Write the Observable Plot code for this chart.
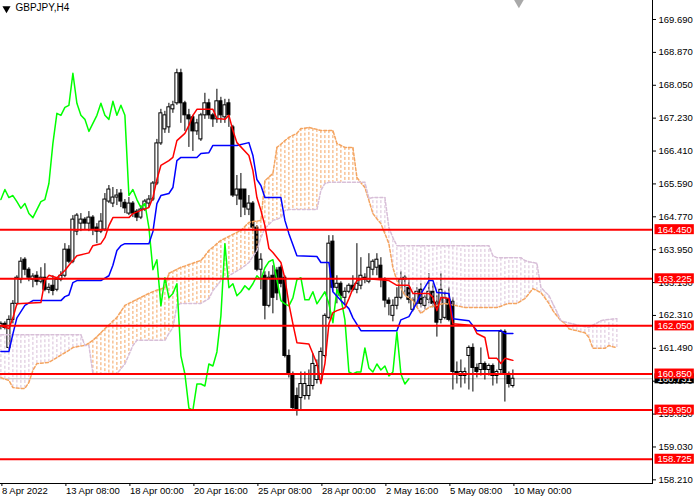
<!DOCTYPE html>
<html>
<head>
<meta charset="utf-8">
<script src="https://cdn.jsdelivr.net/npm/d3@7"></script>
<script src="https://cdn.jsdelivr.net/npm/@observablehq/plot@0.6"></script>
<style>
  body { margin: 0; background: #fff; }
  #chart svg { display: block; }
</style>
</head>
<body>
<div id="chart"></div>
<script>
// GBPJPY H4 con Ichimoku
const symbolName = "GBPJPY,H4"

const opens = [162.05,162.1,161.5,162.2,162.6,163.2,163.7,163.45,163.2,163.3,
  163.15,163.25,162.95,163.05,162.95,163.2,163.3,163.95,163.65,164.4,
  164.6,164.7,164.6,164.75,164.5,164.4,164.45,165.15,165.1,165.25,
  165.35,165.12,164.85,165.1,164.9,164.75,164.95,165.1,165.2,165.6,
  166.6,166.95,167.0,167.45,167.6,168.35,167.6,167.3,167.25,166.9,
  166.7,167.3,167.6,167.3,167.2,167.65,167.25,167.6,167.0,165.3,
  165.45,165.45,164.95,165.1,164.5,163.45,163.3,162.55,163.3,163.43,
  163.5,163.25,161.3,160.85,160.3,160.25,160.3,160.3,160.55,160.7,
  160.7,161.3,162.25,164.15,163.0,163.1,162.75,162.9,163.05,162.95,
  163.05,163.25,163.15,163.45,163.5,163.55,163.2,162.68,162.3,162.55,
  162.75,163.2,163.0,162.45,162.6,162.95,162.55,162.7,162.9,162.63,
  162.2,162.25,162.7,162.65,160.9,160.8,160.8,161.3,161.5,161.0,
  160.95,161.1,160.95,161.05,160.8,160.95,161.9,160.85,160.55]
const highs = [162.15,162.15,162.3,162.68,163.3,163.75,163.75,163.5,163.35,163.4,
  163.5,163.6,163.1,163.3,163.25,163.4,164.1,164.05,164.8,164.85,
  164.85,164.75,164.9,164.8,164.6,164.85,165.35,165.55,165.5,165.45,
  165.45,165.2,165.25,165.15,164.95,165.05,165.2,165.3,165.65,166.7,
  167.45,167.4,167.6,167.65,168.45,168.45,167.65,167.45,167.3,167.2,
  167.35,167.85,167.7,167.35,167.95,167.75,167.7,167.7,167.05,165.8,
  165.85,165.45,165.3,165.15,164.55,163.85,163.4,163.4,163.55,163.5,
  163.55,163.3,161.45,160.9,160.5,160.9,160.9,160.95,161.35,161.2,
  161.5,162.35,164.3,164.3,163.3,163.15,163.0,163.1,163.3,164.1,
  163.75,163.35,163.85,163.7,163.85,163.75,163.25,162.75,162.7,163.0,
  163.4,163.3,163.2,162.75,163.0,163.1,162.8,163.35,163.1,162.8,
  163.35,162.9,163.0,162.75,161.15,161.2,161.0,161.55,161.6,161.1,
  161.5,161.15,161.1,161.1,160.95,161.95,161.95,160.9,160.95]
const lows = [161.95,161.95,161.45,162.1,162.55,163.1,163.3,163.15,163.0,163.05,
  163.1,162.9,162.85,162.8,162.9,163.15,163.25,163.6,163.6,164.3,
  164.4,164.45,164.4,164.3,164.1,164.35,164.4,165.1,165.0,165.05,
  165.0,164.85,164.8,164.75,164.65,164.7,164.9,165.0,165.15,165.55,
  166.55,166.85,166.85,167.35,167.55,167.1,166.9,166.5,166.4,166.8,
  166.65,167.2,167.2,167.0,167.1,167.1,167.1,167.0,165.25,165.05,
  164.75,164.8,164.8,164.4,163.4,162.95,162.2,162.5,162.35,162.68,
  163.0,161.25,160.75,159.95,159.8,159.95,160.2,160.2,160.45,160.6,
  160.65,161.25,162.2,162.9,162.6,162.7,162.55,162.85,162.9,162.85,
  162.95,163.1,163.1,163.3,163.3,163.0,162.5,162.3,162.15,162.45,
  162.7,162.8,162.6,162.4,162.5,162.5,162.45,162.6,162.5,161.77,
  162.1,162.2,162.15,160.45,160.6,160.5,160.6,160.45,160.4,160.75,
  160.8,160.7,160.8,160.55,160.6,160.85,160.15,160.5,160.5]
const closes = [162.1,162.0,162.2,162.6,163.25,163.65,163.45,163.25,163.28,163.15,
  163.25,162.95,163.0,162.92,163.2,163.3,163.95,163.65,164.7,164.8,
  164.7,164.6,164.75,164.45,164.4,164.65,165.2,165.45,165.25,165.3,
  165.15,164.98,165.1,164.85,164.75,164.95,165.15,165.2,165.6,166.6,
  167.35,167.3,167.5,167.55,168.35,167.6,167.3,167.2,166.9,167.1,
  167.3,167.6,167.3,167.2,167.65,167.3,167.55,167.3,165.3,165.45,
  165.2,165.0,165.1,164.5,163.45,163.7,162.55,163.25,162.75,162.86,
  163.1,161.3,160.85,160.0,159.95,160.6,160.6,160.55,161.1,161.05,
  161.4,162.3,164.1,163.0,163.1,162.8,162.9,163.05,162.95,163.1,
  163.3,163.2,163.5,163.65,163.7,163.2,162.68,162.6,162.55,162.75,
  163.2,163.25,162.7,162.7,162.9,162.6,162.75,162.9,162.6,162.13,
  162.95,162.75,162.2,160.9,160.85,160.9,160.9,161.5,161.0,160.9,
  161.1,160.95,161.05,160.8,160.9,161.9,160.85,160.6,160.731]

// ejes
const timeTicks = [0,16,32,48,64,80,96,112,128]
const timeLabels = ["8 Apr 2022","13 Apr 08:00","18 Apr 00:00","20 Apr 16:00","25 Apr 08:00",
  "28 Apr 00:00","2 May 16:00","5 May 08:00","10 May 00:00"]
const priceTicks = [169.69,168.87,168.05,167.23,166.41,165.59,164.77,163.95,163.13,
  162.31,161.49,160.67,159.85,159.03,158.21]
const levels = [164.45,163.225,162.05,160.85,159.95,158.725]

// Tenkan-sen (rojo)
const tenkanBar = [0,2,3,4,10,11,12,14,16,17,19,22,23,25,26,27,28,32,33,35,37,38,39,40,42,43,44,46,47,48,
  49,53,54,56,57,58,59,62,63,64,65,66,67,68,70,71,72,73,74,77,79,80,81,82,83,84,86,87,88,89,
  91,97,99,102,103,107,108,109,110,112,113,118,119,121,122,124,125,126,128]
const tenkanVal = [162.06,161.98,162.25,162.6,162.63,163.18,163.31,163.25,163.43,163.56,
  163.8,163.87,164.05,164.1,164.25,164.55,164.75,164.75,164.85,164.93,
  165.0,165.25,165.7,166.05,166.17,166.25,166.67,166.85,167.05,167.3,
  167.45,167.45,167.22,167.2,167.3,166.92,166.62,166.3,165.92,165.25,
  164.93,164.55,163.98,163.88,163.63,163.23,162.6,162.1,161.63,161.6,
  161.11,160.61,161.11,162.1,162.38,162.43,162.5,162.73,162.98,163.18,
  163.23,163.18,163.06,163.06,162.86,162.86,162.76,162.43,162.76,162.73,
  162.1,162.06,161.86,161.76,161.24,161.24,161.11,161.24,161.19]

// Kijun-sen (azul)
const kijunBar = [0,2,3,4,6,8,15,16,17,18,19,25,27,28,29,30,31,37,38,39,40,42,43,44,45,49,50,52,53,59,
  62,63,64,65,66,70,71,72,74,79,80,82,83,85,87,88,90,99,100,102,104,105,107,108,109,112,113,117,119,125,126,128]
const kijunVal = [161.41,161.41,161.85,162.25,162.56,162.68,162.68,162.78,162.82,163.13,
  163.18,163.18,163.3,163.56,163.93,164.05,164.1,164.1,164.4,165.1,
  165.3,165.35,165.5,166.17,166.25,166.25,166.35,166.37,166.55,166.55,
  166.62,166.3,165.7,165.55,165.25,165.25,164.68,164.35,163.8,163.78,
  163.63,163.63,162.9,162.68,162.48,162.25,161.93,161.93,162.2,162.28,
  162.63,162.85,163.18,163.18,162.88,162.86,162.23,162.18,161.93,161.93,
  161.86,161.86]

// Senkou Span A y B (nube), una por vela, incluye las 26 desplazadas
const spanA = [160.76,160.72,160.69,160.51,160.5,160.49,160.49,160.64,160.94,161.11,
  161.12,161.13,161.14,161.2,161.26,161.32,161.38,161.44,161.51,161.53,
  161.55,161.56,161.62,161.69,161.78,161.88,161.98,162.07,162.17,162.26,
  162.41,162.56,162.61,162.66,162.71,162.76,162.81,162.86,162.9,162.94,
  162.97,163.01,163.36,163.41,163.46,163.51,163.54,163.58,163.61,163.65,
  163.68,163.8,163.93,164.01,164.1,164.18,164.23,164.28,164.33,164.38,
  164.43,164.53,164.63,164.65,164.66,164.68,165.67,165.76,165.85,166.5,
  166.58,166.67,166.75,166.8,166.85,166.97,166.98,167.0,166.97,166.95,
  166.92,166.92,166.92,166.92,166.6,166.55,166.5,166.5,166.5,165.75,
  165.62,165.5,165.18,164.85,164.72,164.6,164.35,164.1,163.5,163.18,
  163.0,162.81,162.75,162.68,162.52,162.36,162.44,162.51,162.54,162.56,
  162.59,162.61,162.59,162.57,162.55,162.53,162.51,162.51,162.51,162.51,
  162.51,162.51,162.51,162.51,162.51,162.54,162.58,162.61,162.61,162.61,
  162.67,162.73,162.85,162.98,162.93,162.88,162.75,162.61,162.43,162.3,
  162.18,162.11,161.98,161.95,161.93,161.9,161.88,161.76,161.49,161.49,
  161.49,161.49,161.56,161.53,161.51]
const spanB = [161.83,161.83,161.83,161.83,161.83,161.83,161.83,161.83,161.83,161.83,
  161.83,161.83,161.83,161.83,161.83,161.83,161.83,161.83,161.83,161.83,
  161.83,161.56,161.56,160.86,160.86,160.86,160.86,160.86,160.86,160.86,
  160.98,161.1,161.33,161.56,161.69,161.69,161.69,161.69,161.69,161.69,
  161.69,161.69,161.86,162.01,162.56,162.61,162.61,162.61,162.61,162.61,
  162.61,162.67,162.73,162.93,163.05,163.18,163.24,163.3,163.36,163.42,
  163.48,163.55,163.63,163.78,163.93,164.25,164.48,164.58,164.68,164.71,
  164.75,164.93,164.95,164.95,164.95,164.95,164.95,164.95,164.95,164.95,
  165.43,165.6,165.63,165.63,165.63,165.63,165.63,165.63,165.63,165.63,
  165.63,165.63,165.23,165.25,165.25,165.25,165.25,164.5,164.25,164.05,
  164.05,164.05,164.05,164.05,164.05,164.05,164.05,164.05,164.05,164.05,
  164.05,164.05,164.05,164.05,164.05,164.05,164.05,164.05,164.05,164.05,
  164.05,164.05,164.05,163.8,163.75,163.75,163.75,163.75,163.75,163.75,
  163.75,163.68,163.65,163.63,163.61,163.01,162.9,162.81,162.6,162.4,
  162.18,162.15,162.12,162.1,162.07,162.05,162.03,162.01,162.07,162.12,
  162.18,162.2,162.21,162.22,162.23]
const chikouShift = 26

// tablas para Plot
const bars = closes.map((c, i) => ({i, o: opens[i], h: highs[i], l: lows[i], c}))
const tenkan = tenkanBar.map((b, k) => ({i: b, v: tenkanVal[k]}))
const kijun = kijunBar.map((b, k) => ({i: b, v: kijunVal[k]}))
const chikou = closes.slice(chikouShift).map((c, k) => ({i: k, v: c}))
const cloud = spanA.map((a, i) => ({i, a, b: spanB[i]}))
const last = closes[closes.length - 1]
const fmt = d3.format(".3f")

const up = "#f4a460", down = "#d8bfd8"

let chart = Plot.plot({
  width: 700,
  height: 500,
  marginLeft: 0,
  marginRight: 48,
  marginTop: 0,
  marginBottom: 17,
  x: {domain: [-0.1, 162.9], axis: null},
  y: {domain: [158.119, 170.164], axis: null},
  style: {fontFamily: "'Liberation Sans', Arial, sans-serif", fontSize: "9.5px", background: "white", color: "black"},
  marks: [
    Plot.ruleY([last], {stroke: "#c0c0c0"}),
    // velas
    Plot.ruleX(bars, {x: "i", y1: "l", y2: "h", stroke: "black"}),
    Plot.rect(bars, {filter: d => d.c >= d.o, x1: d => d.i - 0.38, x2: d => d.i + 0.38, y1: "o", y2: "c", fill: "white", stroke: "black"}),
    Plot.rect(bars, {filter: d => d.c < d.o, x1: d => d.i - 0.38, x2: d => d.i + 0.38, y1: "o", y2: "c", fill: "black", stroke: "black"}),
    // nube
    Plot.ruleX(cloud, {filter: d => d.a >= d.b, x: "i", y1: "a", y2: "b", stroke: up, strokeDasharray: "3,2"}),
    Plot.ruleX(cloud, {filter: d => d.a < d.b, x: "i", y1: "a", y2: "b", stroke: down, strokeDasharray: "3,2"}),
    Plot.line(cloud, {x: "i", y: "a", stroke: up, strokeDasharray: "3,2"}),
    Plot.line(cloud, {x: "i", y: "b", stroke: down, strokeDasharray: "3,2"}),
    // lineas
    Plot.line(chikou, {x: "i", y: "v", stroke: "#00ff00"}),
    Plot.line(kijun, {x: "i", y: "v", stroke: "#0000ff"}),
    Plot.line(tenkan, {x: "i", y: "v", stroke: "#ff0000"}),
    Plot.ruleY(levels, {stroke: "#ff0000", strokeWidth: 2}),
    Plot.frame({anchor: "right", stroke: "black"}),
    Plot.frame({anchor: "bottom", stroke: "black"}),
    Plot.axisY(priceTicks, {anchor: "right", label: null, tickSize: 3, tickPadding: 3, tickFormat: fmt}),
    Plot.axisX(timeTicks, {anchor: "bottom", label: null, tickSize: 3, tickPadding: 1, textAnchor: "start", dx: 1,
      tickFormat: d => timeLabels[timeTicks.indexOf(d)]}),
    Plot.text([last], {y: d => d, text: fmt, frameAnchor: "right", textAnchor: "start", dx: 5, fill: "white"}),
    Plot.text(levels, {y: d => d, text: fmt, frameAnchor: "right", textAnchor: "start", dx: 5, fill: "white"}),
    Plot.dot([closes.length + 0.5], {x: d => d, frameAnchor: "top", symbol: "triangle", rotate: 180, r: 5, fill: "#a9a9a9"}),
    Plot.dot([symbolName], {frameAnchor: "top-left", dx: 6, dy: 8, symbol: "triangle", rotate: 180, r: 3, fill: "black"}),
    Plot.text([symbolName], {text: d => d, frameAnchor: "top-left", dx: 15, dy: 3, textAnchor: "start", lineAnchor: "top", fill: "black", fontSize: 10})
  ]
})

d3.select('#chart').append(() => chart)

// cajas de fondo para las etiquetas de precio
function boxes(values, color) {
  const names = new Set(values.map(fmt))
  d3.select(chart).selectAll('g[aria-label="text"] text')
    .filter(function () { return names.has(this.textContent) })
    .each(function () {
      const node = this
      const b = node.getBBox()
      d3.select(node.parentNode).insert("rect", () => node)
        .attr("transform", node.getAttribute("transform"))
        .attr("x", b.x - 3).attr("y", b.y + 0.5).attr("width", b.width + 5).attr("height", b.height - 1)
        .attr("fill", color)
    })
}
boxes([last], "black")
boxes(levels, "#ff0000")
</script>
</body>
</html>
